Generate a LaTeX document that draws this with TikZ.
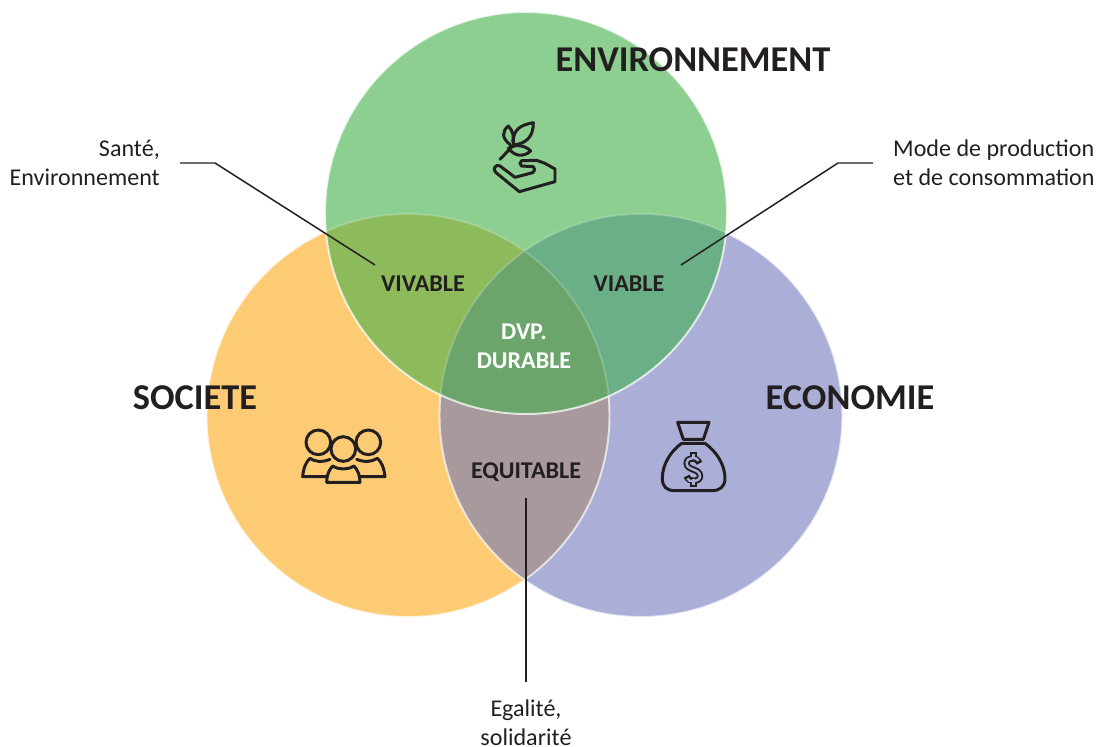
\documentclass[tikz,border=0pt]{standalone}
\usepackage{fontspec}
\setmainfont{Carlito}
\definecolor{envgreen}{HTML}{8CCF90}
\definecolor{socorange}{HTML}{FDCB74}
\definecolor{ecoblue}{HTML}{ABAFD8}
\definecolor{vivcol}{HTML}{8DBB5B}
\definecolor{viacol}{HTML}{6AAF85}
\definecolor{durcol}{HTML}{6BA56B}
\definecolor{equcol}{HTML}{A89A9C}
\definecolor{inkcol}{HTML}{231F20}
\tikzset{
  title/.style={font=\bfseries\fontsize{20.7}{24}\selectfont,text=inkcol,inner sep=0pt},
  zone/.style={font=\bfseries\fontsize{13.7}{16.5}\selectfont,text=inkcol,inner sep=0pt,align=center},
  remark/.style={font=\fontsize{13.7}{16.5}\selectfont,text=inkcol,inner ysep=0pt},
  leader/.style={draw=inkcol,line width=0.85pt},
  icon/.style={draw=inkcol,line width=1.7pt,line join=round,line cap=round}
}
\begin{document}
\begin{tikzpicture}[x=0.02cm,y=-0.02cm]
    \useasboundingbox (0,0) rectangle (1096,747);
    \def\envcircle{(526,213) circle [radius=201]}
    \def\soccircle{(408,415.5) circle [radius=201.5]}
    \def\ecocircle{(641,415.5) circle [radius=201.5]}

    \fill[socorange] \soccircle;
    \fill[ecoblue] \ecocircle;
    \fill[envgreen] \envcircle;
    \begin{scope}
    \clip \soccircle;
    \fill[vivcol] \envcircle;
    \fill[equcol] \ecocircle;
    \end{scope}
    \begin{scope}
    \clip \ecocircle;
    \fill[viacol] \envcircle;
    \clip \soccircle;
    \fill[durcol] \envcircle;
    \end{scope}
    \draw[white,opacity=0.2,line width=1.1pt] \soccircle \ecocircle;
    \begin{scope}[even odd rule]
    \clip (0,0) rectangle (1096,747) \envcircle;
    \draw[white,opacity=0.6,line width=1.1pt] \soccircle \ecocircle;
    \end{scope}
    \draw[white,opacity=0.75,line width=1.1pt] \envcircle;

    % titles
    \node[title] (env) at (693,60) {ENVIRONNEMENT};
    \node[title] (soc) at (195,398) {SOCIETE};
    \node[title] (eco) at (850,398) {ECONOMIE};

    % zones
    \node[zone] (vivable) at (423,284) {VIVABLE};
    \node[zone] (viable) at (629,284) {VIABLE};
    \node[zone,text=white] (durable) at (524,346) {DVP.\\DURABLE};
    \node[zone,inner ysep=9pt] (equitable) at (526,472) {EQUITABLE};

    % remarks
    \node[remark,align=right,anchor=east,inner xsep=11.3pt] (sante) at (180,163)
      {Santé,\\Environnement};
    \node[remark,align=left,anchor=west,inner xsep=11.3pt] (mode) at (873,163)
      {Mode de production\\et de consommation};
    \node[remark,align=center,anchor=north,inner sep=0pt] (egalite) at (526,699)
      {Egalité,\\solidarité};

    \coordinate (santebend) at (215,163);
    \coordinate (santeend) at (375,265);
    \coordinate (modebend) at (838,163);
    \coordinate (modeend) at (681,265);
    \coordinate (egaliteend) at (egalite.north |- 0,682);
    \draw[leader] (sante.east) -- (santebend) -- (santeend);
    \draw[leader] (mode.west) -- (modebend) -- (modeend);
    \draw[leader] (equitable.south) -- (egaliteend);

    % hand and leaves
    \begin{scope}[shift={(470,100)},scale=1/3]
    \draw[icon] (90,178)--(131,135);
    \draw[icon] (131,135)..controls (125,90) and (150,75)..(190,68)
      ..controls (190,110) and (170,130)..(131,135);
    \draw[icon] (122,135)..controls (95,115) and (95,95)..(115,78)
      ..controls (130,95) and (132,110)..(128,125);
    \draw[icon] (115,145)..controls (135,132) and (165,135)..(182,153)
      ..controls (160,172) and (135,170)..(115,145);
    \draw[icon] (190,200)--(155,198)..controls (148,195) and (148,185)..(155,182)
      --(200,181)--(225,190)--(255,207)--(255,245)--(148,275)
      --(78,218)..controls (65,208) and (78,190)..(90,198)
      --(135,232)--(188,218)..controls (195,212) and (195,203)..(190,200);
    \end{scope}

    % people
    \begin{scope}[shift={(290,410)},scale=1/3]
    \draw[icon] (85,97) circle [radius=37];
    \draw[icon] (235,97) circle [radius=37];
    \draw[icon] (160,117) circle [radius=37];
    \draw[icon] (112,200)--(38,200)..controls (40,175) and (48,155)..(60,145)
      ..controls (75,155) and (95,158)..(120,148);
    \draw[icon] (208,200)--(285,200)..controls (282,175) and (275,155)..(262,145)
      ..controls (245,155) and (225,158)..(200,148);
    \draw[icon] (110,217)--(210,217)..controls (210,195) and (203,180)..(192,168)
      ..controls (172,180) and (148,180)..(128,168)
      ..controls (117,180) and (110,195)..(110,217);
    \end{scope}

    % money bag
    \begin{scope}[shift={(640,410)},scale=1/3]
    \draw[icon] (113,37)--(207,37)--(190,88)--(130,88)--cycle;
    \draw[icon] (125,100)--(195,100)..controls (230,125) and (255,165)..(255,205)
      ..controls (255,230) and (240,242)..(215,242)--(105,242)
      ..controls (80,242) and (67,230)..(67,205)
      ..controls (67,165) and (90,125)..(125,100);
    \def\dollarS{(178,160)..controls (172,140) and (140,140)..(140,160)
      ..controls (140,182) and (180,175)..(180,198)
      ..controls (180,218) and (145,218)..(140,198)}
    \draw[inkcol,line width=3.6pt] (160,127)--(160,143) (160,213)--(160,230);
    \draw[inkcol,line width=3.6pt] \dollarS;
    \draw[ecoblue,line width=1.4pt,shorten <=1.5pt,shorten >=1.5pt] \dollarS;
    \draw[ecoblue,line width=1.4pt] (160,131)--(160,148) (160,208)--(160,226);
    \end{scope}
\end{tikzpicture}
\end{document}
